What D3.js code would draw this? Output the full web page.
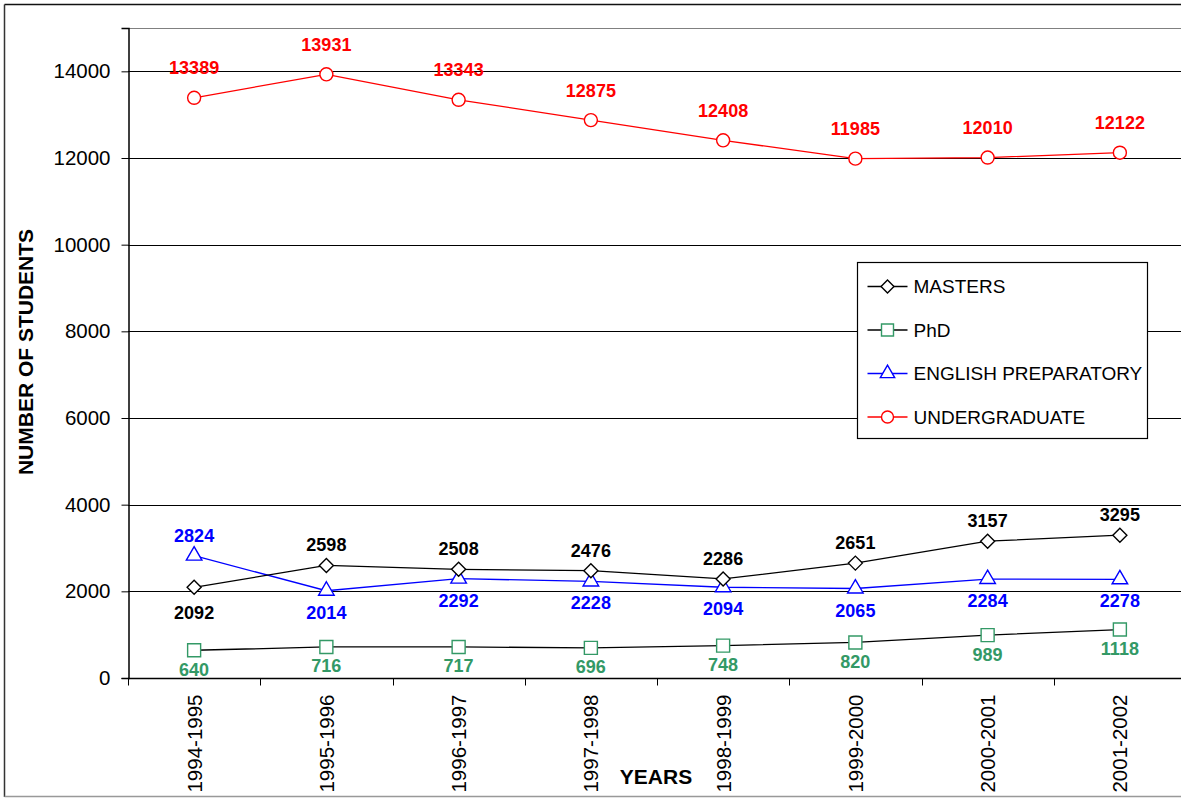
<!DOCTYPE html>
<html>
<head>
<meta charset="utf-8">
<script src="https://cdn.jsdelivr.net/npm/d3@7"></script>
<style>
  body { margin: 0; background: #fff; }
  svg { display: block; font-family: "Liberation Sans", Arial, sans-serif; }
</style>
</head>
<body>
<div id="chart"></div>
<script>
// data
const years = ["1994-1995", "1995-1996", "1996-1997", "1997-1998", "1998-1999", "1999-2000", "2000-2001", "2001-2002"];
const masters = [2092, 2598, 2508, 2476, 2286, 2651, 3157, 3295];
const phd = [640, 716, 717, 696, 748, 820, 989, 1118];
const english = [2824, 2014, 2292, 2228, 2094, 2065, 2284, 2278];
const undergrad = [13389, 13931, 13343, 12875, 12408, 11985, 12010, 12122];
const yTicks = [0, 2000, 4000, 6000, 8000, 10000, 12000, 14000];

const width = 1181, height = 798;
const plot = {left: 128, top: 28, right: 1186, bottom: 678};

const svg = d3.select("#chart").append("svg")
  .attr("width", width)
  .attr("height", height);

// outer frame
svg.append("line").attr("x1", 4.5).attr("x2", width).attr("y1", 4.5).attr("y2", 4.5).attr("stroke", "#111").attr("stroke-width", 1.5);
svg.append("line").attr("x1", 4.5).attr("x2", 4.5).attr("y1", 4.5).attr("y2", 797).attr("stroke", "#333").attr("stroke-width", 1.5);
svg.append("line").attr("x1", 4.5).attr("x2", width).attr("y1", 796.5).attr("y2", 796.5).attr("stroke", "#999").attr("stroke-width", 1.5);

const x = d3.scaleBand().domain(years).range([plot.left, plot.right]).padding(0);
const y = d3.scaleLinear().domain([0, 15000]).range([plot.bottom, plot.top]);
const cx = d => x(d) + x.bandwidth() / 2;

// plot area top border
svg.append("line")
  .attr("x1", plot.left).attr("x2", plot.right)
  .attr("y1", plot.top + 0.5).attr("y2", plot.top + 0.5)
  .attr("stroke", "#808080");

// gridlines
svg.append("g").selectAll("line")
  .data(yTicks.filter(d => d > 0))
  .join("line")
    .attr("x1", plot.left).attr("x2", plot.right)
    .attr("y1", d => Math.round(y(d)) + 0.5)
    .attr("y2", d => Math.round(y(d)) + 0.5)
    .attr("stroke", "#000");

// y axis
const yAxis = d3.axisLeft(y).tickValues(yTicks).tickSize(7).tickPadding(11).tickFormat(d3.format("d"));
const gy = svg.append("g")
  .attr("transform", "translate(" + (plot.left + 0.5) + ",0)")
  .call(yAxis);
gy.select(".domain").attr("stroke", "#000").attr("stroke-width", 1.5);
gy.selectAll("text").attr("font-size", "20.5px").attr("fill", "#000").attr("font-family", "Liberation Sans, Arial, sans-serif");

// x axis: line + ticks at band edges
const gx = svg.append("g").attr("transform", "translate(0," + (plot.bottom + 0.5) + ")");
gx.append("line").attr("x1", plot.left).attr("x2", plot.right).attr("stroke", "#000").attr("stroke-width", 1.5);
gx.selectAll(".tk")
  .data(years.concat(["end"]))
  .join("line")
    .attr("class", "tk")
    .attr("x1", (d, i) => Math.round(plot.left + i * x.bandwidth()) + 0.5)
    .attr("x2", (d, i) => Math.round(plot.left + i * x.bandwidth()) + 0.5)
    .attr("y1", 0).attr("y2", 7)
    .attr("stroke", "#000");
gx.selectAll(".lbl")
  .data(years)
  .join("text")
    .attr("class", "lbl")
    .attr("transform", d => "translate(" + cx(d) + ",16) rotate(-90)")
    .attr("text-anchor", "end")
    .attr("dy", "0.36em")
    .attr("font-size", "20.5px")
    .text(d => d);

// axis titles
svg.append("text")
  .attr("transform", "translate(33,352) rotate(-90)")
  .attr("text-anchor", "middle")
  .attr("font-size", "21px")
  .attr("font-weight", "bold")
  .text("NUMBER OF STUDENTS");
svg.append("text")
  .attr("x", 656).attr("y", 784)
  .attr("text-anchor", "middle")
  .attr("font-size", "21px")
  .attr("font-weight", "bold")
  .text("YEARS");

// excel style diamond: a square turned 45 degrees
const diamond = {
  draw(ctx, size) {
    const r = Math.sqrt(size / 2);
    ctx.moveTo(0, -r); ctx.lineTo(r, 0); ctx.lineTo(0, r); ctx.lineTo(-r, 0); ctx.closePath();
  }
};

const series = [
  {name: "MASTERS", values: masters, line: "#000", mark: "#000", text: "#000", shape: diamond, size: 98,
   side: (v, i) => i === 0 ? "mBelow" : "mAbove"},
  {name: "PhD", values: phd, line: "#000", mark: "#339966", text: "#339966", shape: d3.symbolSquare, size: 169,
   side: () => "pBelow"},
  {name: "ENGLISH PREPARATORY", values: english, line: "#0000ff", mark: "#0000ff", text: "#0000ff", shape: d3.symbolTriangle, size: 105,
   side: (v, i) => i === 0 ? "eAbove" : "eBelow"},
  {name: "UNDERGRADUATE", values: undergrad, line: "#ff0000", mark: "#ff0000", text: "#ff0000", shape: d3.symbolCircle, size: 133,
   side: () => "uAbove"}
];
const offset = {mAbove: -14, mBelow: 32, pBelow: 25.5, eAbove: -13.5, eBelow: 28, uAbove: -23.5};

const line = d3.line().x((d, i) => cx(years[i])).y(d => y(d));

series.slice().reverse().forEach(s => {
  const g = svg.append("g");
  g.append("path")
    .datum(s.values)
    .attr("fill", "none")
    .attr("stroke", s.line)
    .attr("stroke-width", 1.3)
    .attr("d", line);
  g.selectAll("path.m")
    .data(s.values)
    .join("path")
      .attr("class", "m")
      .attr("transform", (d, i) => "translate(" + cx(years[i]) + "," + y(d) + ")")
      .attr("d", d3.symbol().type(s.shape).size(s.size))
      .attr("fill", "#fff")
      .attr("stroke", s.mark)
      .attr("stroke-width", 1.4);
  g.selectAll("text")
    .data(s.values)
    .join("text")
      .attr("x", (d, i) => cx(years[i]))
      .attr("y", (d, i) => y(d) + offset[s.side(d, i)])
      .attr("text-anchor", "middle")
      .attr("font-size", "18px")
      .attr("font-weight", "bold")
      .attr("fill", s.text)
      .text(d => d);
});

// legend
const lg = svg.append("g").attr("transform", "translate(857.5,262.5)");
lg.append("rect").attr("width", 290).attr("height", 176).attr("fill", "#fff").attr("stroke", "#000").attr("stroke-width", 1.2);
const rows = lg.selectAll("g.row")
  .data(series)
  .join("g")
    .attr("class", "row")
    .attr("transform", (d, i) => "translate(0," + (24 + i * 43.5) + ")");
rows.append("line").attr("x1", 10).attr("x2", 50).attr("stroke", d => d.line).attr("stroke-width", 1.3);
rows.append("path")
  .attr("transform", "translate(30,0)")
  .attr("d", d => d3.symbol().type(d.shape).size(d.size * 0.85)())
  .attr("fill", "#fff")
  .attr("stroke", d => d.mark)
  .attr("stroke-width", 1.4);
rows.append("text")
  .attr("x", 56)
  .attr("dy", "0.36em")
  .attr("font-size", "19px")
  .text(d => d.name);
</script>
</body>
</html>
